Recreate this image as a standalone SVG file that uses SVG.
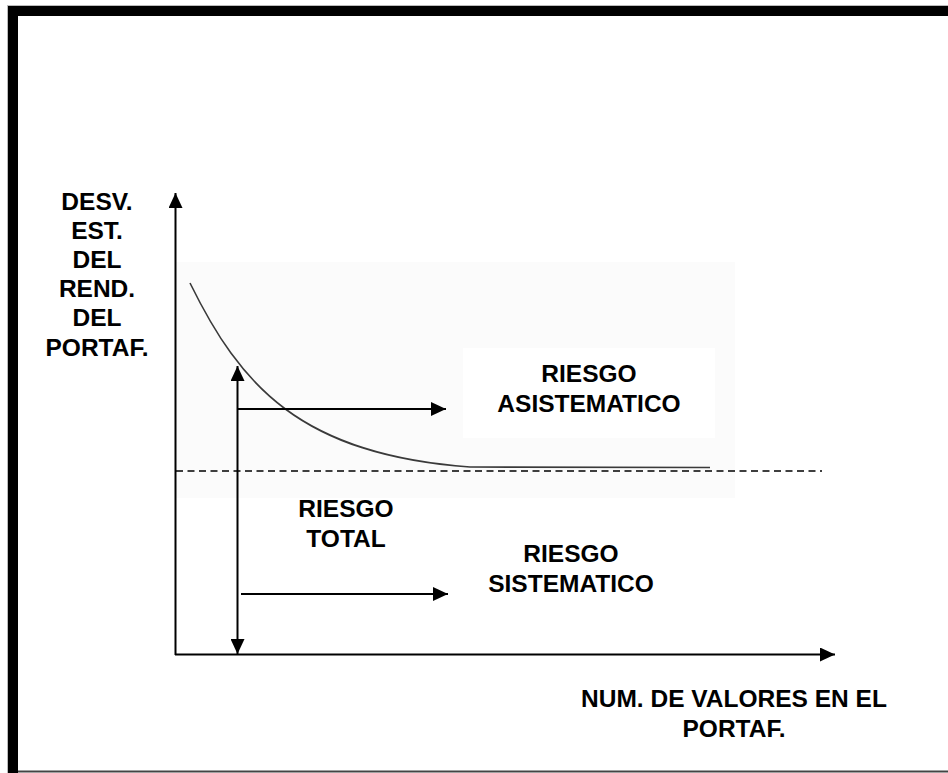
<svg xmlns="http://www.w3.org/2000/svg" width="948" height="773" viewBox="0 0 948 773">
<defs>
<style>
.t{font-family:"Liberation Sans",Arial,sans-serif;font-weight:bold;font-size:24.5px;fill:#000;text-anchor:middle}
.ln{stroke:#000;stroke-width:2;fill:none}
</style>
<marker id="ah" viewBox="0 0 15 14" refX="15" refY="7" markerWidth="15" markerHeight="14" markerUnits="userSpaceOnUse" orient="auto">
<path d="M0,0 L15,7 L0,14 Z" fill="#000"/>
</marker>
</defs>
<rect width="948" height="773" fill="#fff"/>
<g id="frame">
<rect x="7" y="5" width="941" height="1" fill="#bbb"/>
<rect x="7" y="5" width="1" height="768" fill="#bbb"/>
<rect x="8" y="6" width="940" height="10" fill="#000"/>
<rect x="8" y="6" width="10" height="767" fill="#000"/>
<rect x="18" y="770.5" width="930" height="2" fill="#444"/>
</g>
<g id="background">
<rect x="176" y="262" width="559" height="236" fill="#fbfbfb"/>
<rect x="463" y="348" width="252" height="90" fill="#fff"/>
</g>
<g id="curve">
<path d="M190,283 C240,385 300,455 470,467 L710,467.5" fill="none" stroke="#3a3a3a" stroke-width="1.6"/>
</g>
<g id="connectors">
<line class="ln" x1="175.5" y1="655" x2="175.5" y2="193" marker-end="url(#ah)"/>
<line class="ln" x1="175" y1="654.5" x2="835" y2="654.5" marker-end="url(#ah)"/>
<line class="ln" x1="237.5" y1="510" x2="237.5" y2="366" marker-end="url(#ah)"/>
<line class="ln" x1="237.5" y1="510" x2="237.5" y2="654" marker-end="url(#ah)"/>
<line class="ln" x1="238" y1="409" x2="446" y2="409" marker-end="url(#ah)"/>
<line class="ln" x1="241" y1="594" x2="448" y2="594" marker-end="url(#ah)"/>
<line x1="176" y1="471" x2="822" y2="471" stroke="#000" stroke-width="1.5" stroke-dasharray="7,4.5"/>
</g>
<g id="y-label">
<text class="t" x="97" y="209.5">DESV.</text>
<text class="t" x="97" y="238.7">EST.</text>
<text class="t" x="97" y="267.9">DEL</text>
<text class="t" x="97" y="297.1">REND.</text>
<text class="t" x="97" y="326.3">DEL</text>
<text class="t" x="97" y="355.5">PORTAF.</text>
</g>
<g id="riesgo-asistematico">
<text class="t" x="589" y="381.7">RIESGO</text>
<text class="t" x="589" y="411.7">ASISTEMATICO</text>
</g>
<g id="riesgo-total">
<text class="t" x="346" y="516.7">RIESGO</text>
<text class="t" x="346" y="546.7">TOTAL</text>
</g>
<g id="riesgo-sistematico">
<text class="t" x="571" y="561.7">RIESGO</text>
<text class="t" x="571" y="591.7">SISTEMATICO</text>
</g>
<g id="x-label">
<text class="t" x="734" y="707">NUM. DE VALORES EN EL</text>
<text class="t" x="734" y="737">PORTAF.</text>
</g>
</svg>
